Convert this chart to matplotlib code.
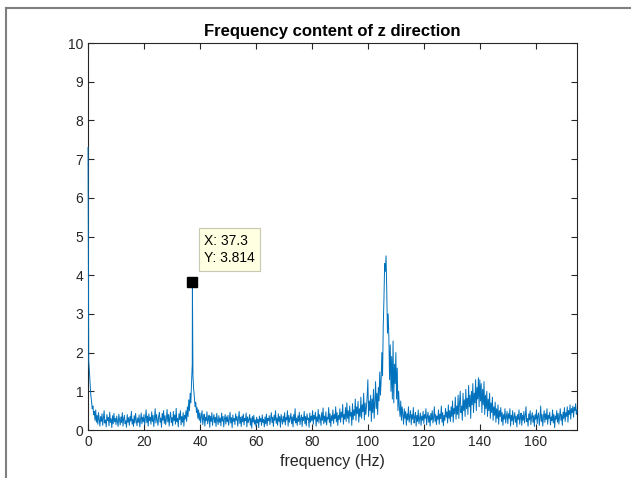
import numpy as np
import matplotlib
matplotlib.use('Agg')
import matplotlib.pyplot as plt
from matplotlib.lines import Line2D

plt.rcParams['font.family'] = ['Liberation Sans', 'DejaVu Sans']

# spectrum magnitude at 0.25 Hz steps (0 .. 174.75 Hz)
freq = np.arange(0, 175, 0.25)
amp = [
    7.3, 1.8, 1.5, 1.2, 0.9, 0.75, 0.55, 0.62, 0.4, 0.48,
    0.25, 0.52, 0.2, 0.38, 0.15, 0.45, 0.28, 0.1, 0.35, 0.22,
    0.42, 0.12, 0.3, 0.5, 0.18, 0.26, 0.08, 0.4, 0.24, 0.33,
    0.11, 0.46, 0.2, 0.29, 0.06, 0.37, 0.16, 0.43, 0.21, 0.3,
    # 10 Hz
    0.14, 0.36, 0.22, 0.09, 0.41, 0.27, 0.13, 0.34, 0.19, 0.45,
    0.1, 0.29, 0.38, 0.16, 0.24, 0.07, 0.4, 0.2, 0.32, 0.12,
    0.35, 0.23, 0.48, 0.15, 0.28, 0.09, 0.37, 0.18, 0.43, 0.25,
    0.11, 0.31, 0.2, 0.39, 0.08, 0.27, 0.44, 0.16, 0.33, 0.21,
    # 20 Hz
    0.4, 0.13, 0.3, 0.52, 0.19, 0.36, 0.1, 0.42, 0.24, 0.33,
    0.15, 0.47, 0.22, 0.38, 0.09, 0.3, 0.55, 0.18, 0.4, 0.26,
    0.12, 0.35, 0.46, 0.2, 0.31, 0.07, 0.43, 0.25, 0.5, 0.17,
    0.37, 0.14, 0.29, 0.53, 0.21, 0.4, 0.1, 0.34, 0.46, 0.19,
    # 30 Hz
    0.32, 0.11, 0.48, 0.24, 0.39, 0.15, 0.56, 0.22, 0.3, 0.08,
    0.42, 0.27, 0.5, 0.13, 0.35, 0.2, 0.45, 0.1, 0.38, 0.28,
    0.5, 0.22, 0.6, 0.35, 0.78, 0.5, 0.95, 0.7, 1.25, 1.7,
    1.4, 1.05, 0.85, 0.6, 0.72, 0.45, 0.58, 0.3, 0.52, 0.25,
    # 40 Hz
    0.44, 0.18, 0.36, 0.5, 0.14, 0.3, 0.41, 0.1, 0.33, 0.24,
    0.47, 0.16, 0.28, 0.38, 0.07, 0.35, 0.22, 0.45, 0.12, 0.3,
    0.4, 0.19, 0.33, 0.09, 0.43, 0.25, 0.14, 0.37, 0.2, 0.31,
    0.11, 0.44, 0.23, 0.35, 0.08, 0.29, 0.4, 0.15, 0.34, 0.21,
    # 50 Hz
    0.38, 0.12, 0.27, 0.46, 0.18, 0.32, 0.06, 0.39, 0.22, 0.3,
    0.14, 0.42, 0.25, 0.35, 0.1, 0.28, 0.48, 0.17, 0.33, 0.09,
    0.36, 0.21, 0.41, 0.13, 0.3, 0.24, 0.44, 0.08, 0.34, 0.19,
    0.27, 0.4, 0.12, 0.31, 0.05, 0.35, 0.2, 0.38, 0.15, 0.26,
    # 60 Hz
    0.1, 0.33, 0.18, 0.28, 0.06, 0.36, 0.22, 0.3, 0.12, 0.39,
    0.2, 0.27, 0.08, 0.34, 0.16, 0.41, 0.11, 0.3, 0.24, 0.37,
    0.14, 0.29, 0.45, 0.19, 0.33, 0.09, 0.38, 0.25, 0.5, 0.17,
    0.31, 0.12, 0.42, 0.22, 0.35, 0.07, 0.4, 0.26, 0.15, 0.36,
    # 70 Hz
    0.21, 0.45, 0.13, 0.32, 0.26, 0.5, 0.1, 0.38, 0.2, 0.3,
    0.43, 0.16, 0.34, 0.08, 0.4, 0.24, 0.55, 0.18, 0.31, 0.12,
    0.37, 0.22, 0.46, 0.14, 0.29, 0.39, 0.09, 0.33, 0.25, 0.48,
    0.16, 0.35, 0.11, 0.42, 0.27, 0.31, 0.07, 0.44, 0.2, 0.36,
    # 80 Hz
    0.24, 0.5, 0.15, 0.38, 0.28, 0.46, 0.1, 0.34, 0.22, 0.53,
    0.18, 0.4, 0.31, 0.12, 0.45, 0.25, 0.57, 0.16, 0.36, 0.2,
    0.47, 0.13, 0.33, 0.28, 0.58, 0.19, 0.42, 0.09, 0.37, 0.24,
    0.52, 0.17, 0.4, 0.3, 0.6, 0.21, 0.45, 0.12, 0.38, 0.27,
    # 90 Hz
    0.55, 0.2, 0.46, 0.33, 0.66, 0.15, 0.4, 0.28, 0.58, 0.22,
    0.7, 0.3, 0.5, 0.18, 0.62, 0.36, 0.45, 0.12, 0.68, 0.27,
    0.52, 0.38, 0.8, 0.25, 0.6, 0.42, 0.74, 0.2, 0.55, 0.35,
    0.85, 0.3, 0.65, 0.48, 0.95, 0.26, 0.7, 0.4, 0.6, 0.88,
    # 100 Hz
    1.3, 0.35, 0.75, 0.5, 0.9, 0.22, 0.8, 0.45, 1.05, 0.3,
    0.7, 1.25, 0.55, 0.95, 0.4, 1.1, 0.75, 1.5, 0.9, 1.3,
    2.0, 1.4, 2.7, 3.4, 4.3, 4.1, 4.5, 3.6, 2.5, 3.0,
    2.4, 1.3, 2.2, 1.0, 1.9, 0.8, 2.3, 0.7, 1.7, 1.2,
    # 110 Hz
    2.0, 0.8, 1.6, 0.5, 1.0, 0.6, 0.35, 0.75, 0.25, 0.6,
    0.4, 0.15, 0.55, 0.3, 0.48, 0.12, 0.42, 0.26, 0.6, 0.2,
    0.35, 0.5, 0.14, 0.4, 0.28, 0.58, 0.18, 0.33, 0.45, 0.1,
    0.38, 0.22, 0.52, 0.16, 0.3, 0.44, 0.12, 0.36, 0.25, 0.48,
    # 120 Hz
    0.17, 0.4, 0.3, 0.55, 0.13, 0.34, 0.46, 0.2, 0.37, 0.1,
    0.43, 0.26, 0.5, 0.18, 0.32, 0.6, 0.22, 0.4, 0.14, 0.36,
    0.28, 0.52, 0.15, 0.41, 0.3, 0.62, 0.2, 0.45, 0.11, 0.38,
    0.25, 0.56, 0.33, 0.47, 0.18, 0.65, 0.3, 0.5, 0.22, 0.6,
    # 130 Hz
    0.35, 0.75, 0.2, 0.55, 0.42, 0.85, 0.28, 0.62, 0.4, 0.9,
    0.3, 0.7, 1.0, 0.45, 0.62, 0.25, 0.95, 0.5, 0.78, 0.35,
    1.05, 0.55, 0.82, 0.4, 1.15, 0.6, 0.9, 0.3, 1.0, 0.65,
    1.2, 0.45, 0.95, 0.7, 1.3, 0.5, 1.1, 0.8, 1.35, 0.6,
    # 140 Hz
    1.3, 0.75, 1.2, 0.45, 1.05, 0.65, 1.25, 0.4, 0.9, 0.55,
    1.0, 0.35, 0.8, 0.5, 0.95, 0.3, 0.7, 0.45, 0.85, 0.25,
    0.6, 0.38, 0.72, 0.2, 0.55, 0.3, 0.65, 0.15, 0.5, 0.35,
    0.58, 0.22, 0.45, 0.12, 0.4, 0.28, 0.55, 0.18, 0.35, 0.48,
    # 150 Hz
    0.16, 0.42, 0.3, 0.55, 0.1, 0.38, 0.24, 0.5, 0.14, 0.33,
    0.45, 0.2, 0.36, 0.08, 0.4, 0.27, 0.52, 0.15, 0.32, 0.44,
    0.12, 0.38, 0.25, 0.48, 0.18, 0.35, 0.6, 0.22, 0.3, 0.1,
    0.42, 0.26, 0.5, 0.14, 0.34, 0.45, 0.2, 0.37, 0.09, 0.4,
    # 160 Hz
    0.28, 0.52, 0.16, 0.36, 0.44, 0.12, 0.3, 0.62, 0.22, 0.4,
    0.1, 0.35, 0.5, 0.2, 0.42, 0.27, 0.55, 0.15, 0.38, 0.3,
    0.46, 0.13, 0.34, 0.24, 0.52, 0.18, 0.4, 0.06, 0.36, 0.28,
    0.5, 0.2, 0.43, 0.15, 0.35, 0.55, 0.25, 0.4, 0.12, 0.46,
    # 170 Hz
    0.3, 0.58, 0.22, 0.45, 0.35, 0.6, 0.2, 0.5, 0.4, 0.65,
    0.28, 0.55, 0.45, 0.62, 0.33, 0.58, 0.5, 0.68, 0.4, 0.52,
]
assert len(amp) == len(freq)

# the marked peak (data tip)
peak_f = 37.3
peak_y = 3.814

f_all = np.append(freq, peak_f)
y_all = np.append(amp, peak_y)
order = np.argsort(f_all)
f_all = f_all[order]
y_all = y_all[order]

fig = plt.figure(figsize=(6.31, 4.78), dpi=100)
ax = fig.add_axes([0.1395, 0.1004, 0.775, 0.8096])

ax.plot(f_all, y_all, color='#0072BD', linewidth=0.7, zorder=3, clip_on=False)

ax.set_xlim(0, freq[-1])
ax.set_ylim(0, 10)
ax.set_xticks(np.arange(0, 161, 20))
ax.set_yticks(np.arange(0, 11, 1))
ax.tick_params(direction='in', top=True, right=True, length=4, width=0.8,
               labelsize=10, colors='#262626')
for s in ax.spines.values():
    s.set_color('#262626')
    s.set_linewidth(0.8)

ax.set_title('Frequency content of z direction', fontsize=12, fontweight='bold', pad=5)
ax.set_xlabel('frequency (Hz)', fontsize=11.5, color='#262626')

# data tip
ax.plot([peak_f], [peak_y], marker='s', markersize=7, color='black', linestyle='none', zorder=4)
ax.text(peak_f + 4.2, peak_y + 0.85, f'X: {peak_f}\nY: {peak_y}', fontsize=10,
        ha='left', va='center', linespacing=1.3, zorder=5,
        bbox=dict(boxstyle='square,pad=0.4', facecolor='#FFFFE1', edgecolor='#C8C8B4', linewidth=0.8))

# window frame of the screenshot
fig.add_artist(Line2D([6 / 631, 6 / 631], [0, 1 - 8 / 478], color='#7F7F7F', linewidth=1.5))
fig.add_artist(Line2D([6 / 631, 1], [1 - 8 / 478, 1 - 8 / 478], color='#7F7F7F', linewidth=1.5))

fig.savefig('out.png', dpi=100)
